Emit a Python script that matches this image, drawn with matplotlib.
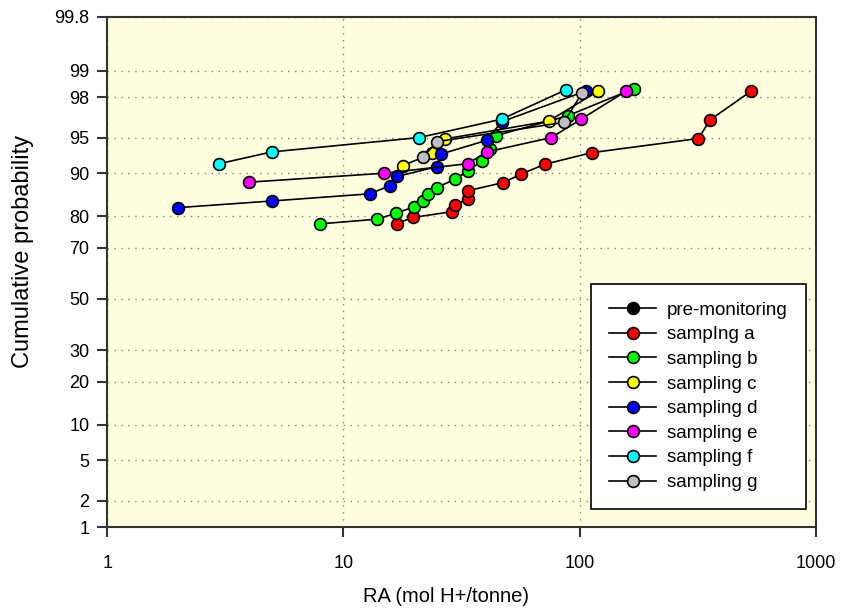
import numpy as np
import matplotlib
matplotlib.use("Agg")
import matplotlib.pyplot as plt
from matplotlib.ticker import FixedLocator, FixedFormatter, NullLocator
from statistics import NormalDist

plt.rcParams['font.family'] = ['Liberation Sans', 'DejaVu Sans']

# ---- data (RA in mol H+/tonne, cumulative probability in %) ----
series_names = ["pre-monitoring", "sampIng a", "sampling b", "sampling c",
                "sampling d", "sampling e", "sampling f", "sampling g"]
series_colors = ["#000000", "#FF0000", "#00FF00", "#FFFF00",
                 "#0000FF", "#FF00FF", "#00FFFF", "#C0C0C0"]

pre_x = []
pre_p = []

a_x = [16.8, 19.7, 28.7, 29.8, 33.6, 33.6, 47.3, 56.3, 71.1, 112.4, 318.6, 357.0, 533.8]
a_p = [77.9, 79.7, 81.3, 83.1, 84.7, 86.5, 88.2, 89.8, 91.5, 93.2, 94.9, 96.6, 98.3]

b_x = [7.96, 13.9, 16.7, 19.9, 21.8, 22.9, 24.8, 29.8, 33.6, 38.5, 41.9, 44.3, 89.0, 169.8]
b_p = [77.8, 79.2, 80.9, 82.6, 84.1, 85.7, 87.2, 88.9, 90.4, 92.0, 93.7, 95.2, 96.9, 98.4]

c_x = [17.85, 23.8, 26.8, 73.9, 120.0]
c_p = [91.3, 93.1, 94.85, 96.5, 98.3]

d_x = [1.99, 4.97, 12.9, 15.8, 16.8, 24.8, 25.8, 40.4, 46.7, 106.4]
d_p = [82.4, 84.1, 85.8, 87.6, 89.4, 91.1, 93.0, 94.7, 96.45, 98.3]

e_x = [3.97, 14.9, 33.6, 40.4, 75.9, 101.4, 157.9]
e_p = [88.3, 90.0, 91.6, 93.3, 95.0, 96.65, 98.3]

f_x = [2.98, 4.97, 20.9, 46.7, 87.6]
f_p = [91.6, 93.3, 95.0, 96.65, 98.35]

g_x = [21.8, 24.8, 85.6, 102.4]
g_p = [92.6, 94.55, 96.4, 98.2]

all_x = [pre_x, a_x, b_x, c_x, d_x, e_x, f_x, g_x]
all_p = [pre_p, a_p, b_p, c_p, d_p, e_p, f_p, g_p]

y_ticks = [1, 2, 5, 10, 20, 30, 50, 70, 80, 90, 95, 98, 99, 99.8]
y_tick_labels = ["1", "2", "5", "10", "20", "30", "50", "70", "80", "90", "95", "98", "99", "99.8"]
x_ticks = [1, 10, 100, 1000]
x_tick_labels = ["1", "10", "100", "1000"]

# ---- normal probability scale ----
_nd = NormalDist()


def fwd(p):
    p = np.asarray(p, dtype=float)
    q = np.clip(p / 100.0, 1e-9, 1 - 1e-9)
    flat = np.array([_nd.inv_cdf(v) for v in q.ravel()])
    return flat.reshape(q.shape)


def inv(z):
    z = np.asarray(z, dtype=float)
    flat = np.array([_nd.cdf(v) for v in z.ravel()]) * 100.0
    return flat.reshape(z.shape)


fig = plt.figure(figsize=(8.41, 6.14), dpi=100)
ax = fig.add_axes([0.1276, 0.1412, 0.8424, 0.8319])
ax.set_facecolor("#FFFFE0")

ax.set_xscale("log")
ax.set_yscale("function", functions=(fwd, inv))
ax.set_xlim(1, 1000)
ax.set_ylim(1, 99.8)

for xs, ps, name, col in zip(all_x, all_p, series_names, series_colors):
    ax.plot(xs, ps, color="black", lw=1.2, marker="o", markersize=8.5,
            markerfacecolor=col, markeredgecolor="black", markeredgewidth=1.2,
            label=name, zorder=3)

ax.yaxis.set_major_locator(FixedLocator(y_ticks))
ax.yaxis.set_major_formatter(FixedFormatter(y_tick_labels))
ax.yaxis.set_minor_locator(NullLocator())
ax.xaxis.set_major_locator(FixedLocator(x_ticks))
ax.xaxis.set_major_formatter(FixedFormatter(x_tick_labels))
ax.xaxis.set_minor_locator(NullLocator())

ax.grid(True, which="major", color="#808080", linestyle=(0, (1, 4)), linewidth=1.0)
ax.set_axisbelow(True)

for s in ax.spines.values():
    s.set_color("#333333")
    s.set_linewidth(1.5)

ax.tick_params(axis="both", direction="out", length=7, width=1.5, color="#333333",
               labelsize=13)
ax.tick_params(axis="x", pad=13)
ax.tick_params(axis="y", pad=6)

ax.set_xlabel("RA (mol H+/tonne)", fontsize=14.5)
ax.set_ylabel("Cumulative probability", fontsize=17)
ax.xaxis.set_label_coords(0.478, -0.117)
ax.yaxis.set_label_coords(-0.103, 0.541)

leg = ax.legend(loc="lower right", bbox_to_anchor=(0.986, 0.036), borderaxespad=0,
                fancybox=False, frameon=True, fontsize=13.5, handlelength=2.5,
                labelspacing=0.4, borderpad=0.95, handletextpad=0.6)
leg.get_frame().set_edgecolor("black")
leg.get_frame().set_linewidth(1.2)
leg.get_frame().set_facecolor("white")
leg.get_frame().set_alpha(1)

fig.savefig("out.png", dpi=100)
